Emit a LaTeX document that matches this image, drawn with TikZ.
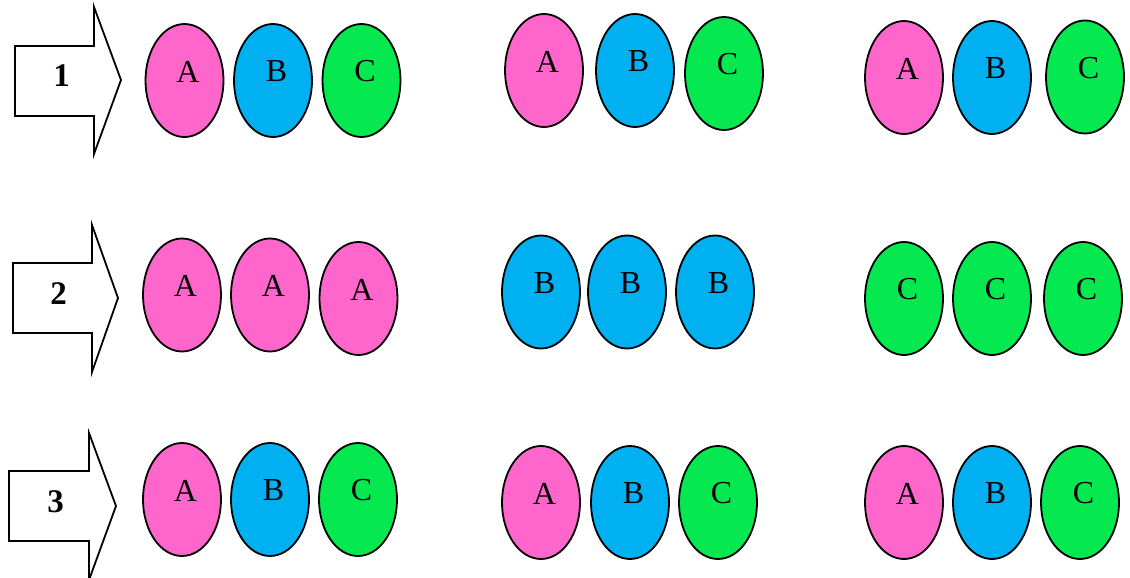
\documentclass[tikz,border=0pt]{standalone}
\usepackage{fontspec}
\setmainfont{Liberation Serif}
\usetikzlibrary{shapes.geometric}
\definecolor{pinkA}{HTML}{FF66CC}
\definecolor{blueB}{HTML}{00B0F0}
\definecolor{greenC}{HTML}{05E850}
\tikzset{
  egg/.style={ellipse, draw=black, line width=1.8pt, minimum width=78pt, minimum height=113pt, inner sep=0pt},
  ea/.style={egg, fill=pinkA},
  eb/.style={egg, fill=blueB},
  ec/.style={egg, fill=greenC},
  letter/.style={font=\fontsize{32}{38}\selectfont, inner sep=0pt},
  num/.style={font=\fontsize{33}{38}\selectfont\bfseries, inner sep=0pt},
  bigarrow/.style={draw=black, line width=1.8pt, fill=white, line join=miter}
}
\newcommand\eggnode[4]{%
  \node[#1] (#2) at (#3) {};
  \node[letter] (#2t) at ([shift={(3.5,-9)}]#2.center) {#4};
}
\begin{document}
\begin{tikzpicture}[x=1pt,y=-1pt]
\useasboundingbox (0,0) rectangle (1130,578);
% arrows
\draw[bigarrow] (15,46) -- (94,46) -- (94,7) -- (121,80) -- (94,154) -- (94,116) -- (15,116) -- cycle;
\node[num] (n1) at (61.5,76) {1};
\draw[bigarrow] (13,263) -- (92,263) -- (92,225) -- (118,298) -- (92,372) -- (92,333) -- (13,333) -- cycle;
\node[num] (n2) at (58.5,294) {2};
\draw[bigarrow] (9,471) -- (89,471) -- (89,433) -- (116,506) -- (89,580) -- (89,541) -- (9,541) -- cycle;
\node[num] (n3) at (55.5,501.5) {3};
% row 1
\eggnode{ea}{r1a1}{184.5,80.5}{A}
\eggnode{eb}{r1b1}{273,80.5}{B}
\eggnode{ec}{r1c1}{361.5,80.5}{C}
\eggnode{ea}{r1a2}{544,70.5}{A}
\eggnode{eb}{r1b2}{635,70.5}{B}
\eggnode{ec}{r1c2}{724,73.5}{C}
\eggnode{ea}{r1a3}{904,77.5}{A}
\eggnode{eb}{r1b3}{992,77.5}{B}
\eggnode{ec}{r1c3}{1085,77}{C}
% row 2
\eggnode{ea}{r2a1}{182,295}{A}
\eggnode{ea}{r2a2}{270,295}{A}
\eggnode{ea}{r2a3}{358.5,298.5}{A}
\eggnode{eb}{r2b1}{541,292}{B}
\eggnode{eb}{r2b2}{627,292}{B}
\eggnode{eb}{r2b3}{715,292}{B}
\eggnode{ec}{r2c1}{904,298.5}{C}
\eggnode{ec}{r2c2}{992,298.5}{C}
\eggnode{ec}{r2c3}{1083,298.5}{C}
% row 3
\eggnode{ea}{r3a1}{182,499.5}{A}
\eggnode{eb}{r3b1}{270,499.5}{B}
\eggnode{ec}{r3c1}{358,499.5}{C}
\eggnode{ea}{r3a2}{541,502.5}{A}
\eggnode{eb}{r3b2}{630,502.5}{B}
\eggnode{ec}{r3c2}{718,502.5}{C}
\eggnode{ea}{r3a3}{904,502.5}{A}
\eggnode{eb}{r3b3}{992,502.5}{B}
\eggnode{ec}{r3c3}{1080,502.5}{C}
\end{tikzpicture}
\end{document}
